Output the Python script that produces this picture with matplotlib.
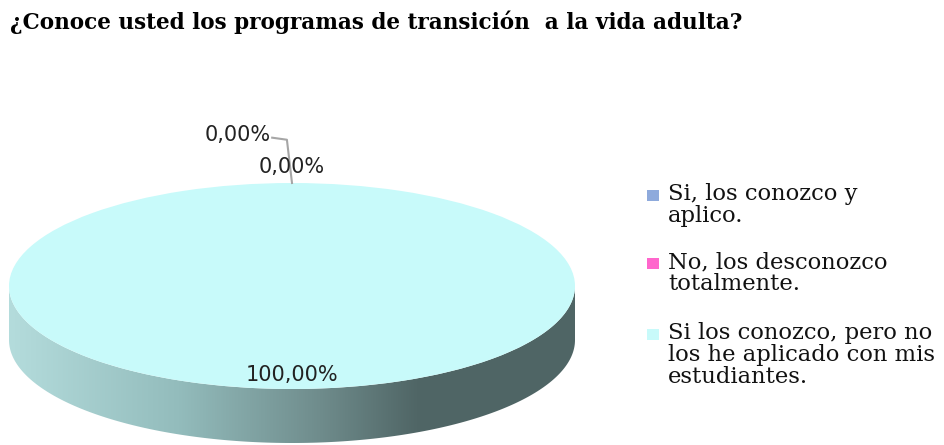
import numpy as np
import matplotlib
matplotlib.use("Agg")
import matplotlib.pyplot as plt
from matplotlib.colors import LinearSegmentedColormap
from matplotlib.patches import Polygon, Rectangle

# ---- DATA ----
title = "¿Conoce usted los programas de transición  a la vida adulta?"
categories = [
    "Si, los conozco y\naplico.",
    "No, los desconozco\ntotalmente.",
    "Si los conozco, pero no\nlos he aplicado con mis\nestudiantes.",
]
values = [0.0, 0.0, 100.0]
colors = ["#8eaadc", "#ff66cc", "#c8fafa"]

# ---- GEOMETRY (pixels) ----
W, H = 945, 445
cx, cy = 292, 286          # centre of top ellipse (from top)
ra, rb = 283, 103          # semi axes
depth = 54 / rb            # side thickness in y units

fig = plt.figure(figsize=(W / 100, H / 100), dpi=100)

xlim = (-1.03, 1.03)
ylim = (-1.55, 1.65)
ax_w = (xlim[1] - xlim[0]) * ra
ax_h = (ylim[1] - ylim[0]) * rb
ax_left = cx - (0 - xlim[0]) * ra
ax_bottom = (H - cy) - (0 - ylim[0]) * rb
ax = fig.add_axes([ax_left / W, ax_bottom / H, ax_w / W, ax_h / H])

# side of the 3d pie, with a gradient
t = np.linspace(np.pi, 2 * np.pi, 200)
top_edge = np.column_stack([np.cos(t), np.sin(t)])
bot_edge = np.column_stack([np.cos(t[::-1]), np.sin(t[::-1]) - depth])
side = Polygon(np.vstack([top_edge, bot_edge]), closed=True, facecolor="none", edgecolor="none")
ax.add_patch(side)
side_cmap = LinearSegmentedColormap.from_list(
    "side", [(0.0, "#b4dcdc"), (0.3, "#93bcbc"), (0.55, "#6f8c8c"), (0.72, "#506666"), (1.0, "#4f6565")])
grad = np.linspace(0, 1, 256).reshape(1, -1)
img = ax.imshow(grad, cmap=side_cmap, extent=(-1, 1, -1 - depth, 0), aspect="auto", zorder=1)
img.set_clip_path(side)

# top of the pie
wedges, _ = ax.pie(values, colors=colors, startangle=90, counterclock=False, radius=1,
                   wedgeprops=dict(linewidth=0), normalize=True)
for w in wedges:
    w.set_zorder(2)
ax.set_aspect("auto")
ax.set_xlim(*xlim)
ax.set_ylim(*ylim)
ax.axis("off")

# percentage labels
total = sum(values)
cum = 0.0
lab_font = dict(family="DejaVu Sans", fontsize=15, color="#222222")
for i, v in enumerate(values):
    mid = np.deg2rad(90 - 360 * (cum + v / 2) / total)
    cum += v
    txt = f"{v / total * 100:.2f}%".replace(".", ",")
    px, py = np.cos(mid), np.sin(mid)
    if v / total > 0.5:
        ax.text(0.86 * px, 0.86 * py, txt, ha="center", va="center", zorder=5, **lab_font)
    elif i == 1:
        ax.text(px, 1.16 * py, txt, ha="center", va="center", zorder=5, **lab_font)
    else:
        ax.plot([px, px - 0.018, px - 0.07], [1.0 * py, 1.42 * py, 1.44 * py],
                color="#a6a6a6", lw=1.5, zorder=4, clip_on=False)
        ax.text(px - 0.075, 1.47 * py, txt, ha="right", va="center", zorder=5,
                clip_on=False, **lab_font)

# title
fig.text(10 / W, 1 - 22 / H, title, family="DejaVu Serif", fontweight="bold",
         fontsize=15.5, ha="left", va="center")

# legend
leg_lines = [195, 263, 334]   # centre of first text line of each entry
for lab, col, ly in zip(categories, colors, leg_lines):
    fig.patches.append(Rectangle((647 / W, 1 - (ly + 6) / H), 12 / W, 11 / H,
                                 transform=fig.transFigure, facecolor=col, edgecolor="none"))
    fig.text(668 / W, 1 - (ly - 12) / H, lab, family="DejaVu Serif", fontsize=16.3,
             ha="left", va="top", linespacing=1.0, color="#111111")

fig.savefig("out.png", dpi=100, facecolor="white")
